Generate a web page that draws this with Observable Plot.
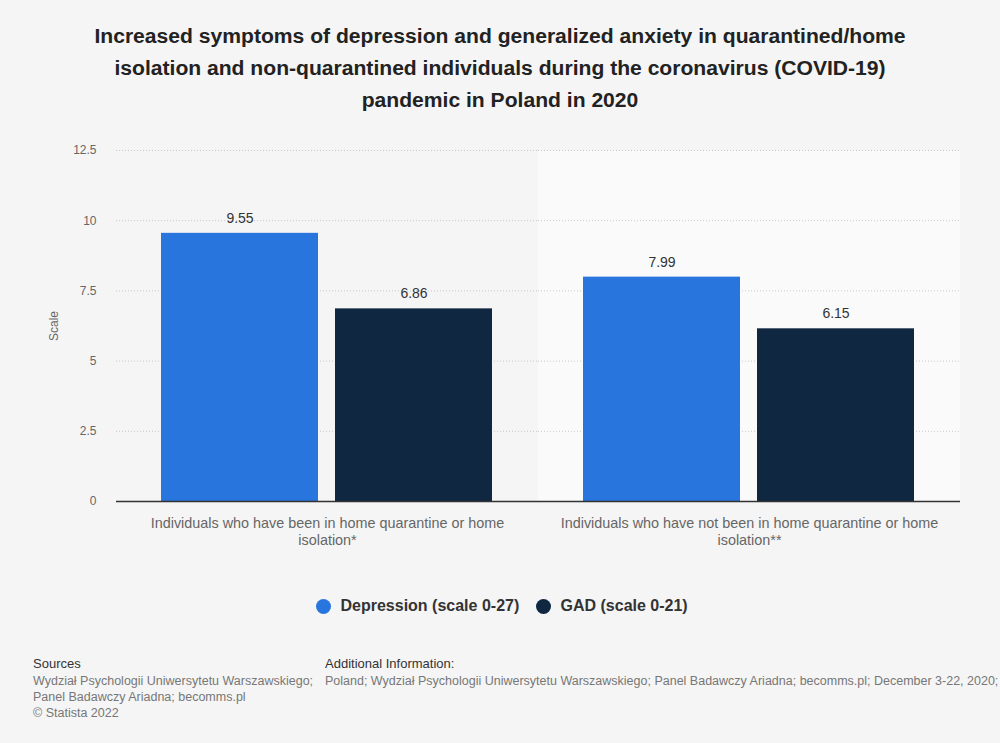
<!DOCTYPE html>
<html>
<head>
<meta charset="utf-8">
<script src="https://cdn.jsdelivr.net/npm/d3@7"></script>
<script src="https://cdn.jsdelivr.net/npm/@observablehq/plot@0.6"></script>
<style>
  html, body { margin: 0; padding: 0; background: #f5f5f5; width: 1000px; height: 743px; overflow: hidden; font-family: "Liberation Sans", Arial, sans-serif; }
  #title { position: absolute; top: 20px; left: 0; width: 1000px; text-align: center; font-weight: bold; font-size: 21.1px; line-height: 32px; color: #222; }
  #chart { position: absolute; top: 130px; left: 0; }
  #legend { position: absolute; top: 594px; left: 0; width: 1000px; height: 24px; }
  .lg { position: absolute; top: 0; display: flex; align-items: center; height: 24px; font-weight: bold; font-size: 16px; color: #333; }
  .dot { width: 15px; height: 15px; border-radius: 50%; margin-right: 10px; }
  #footer { position: absolute; top: 656px; left: 0; width: 1000px; font-size: 12.5px; color: #777; line-height: 16px; }
  .fh { font-size: 13px; color: #333; margin-bottom: 1px; }
</style>
</head>
<body>
<div id="title">Increased symptoms of depression and generalized anxiety in quarantined/home<br>isolation and non-quarantined individuals during the coronavirus (COVID-19)<br>pandemic in Poland in 2020</div>
<div id="chart"></div>
<div id="legend"></div>
<div id="footer">
  <div style="position:absolute;left:33px;top:0;">
    <div class="fh">Sources</div>
    <div>Wydział Psychologii Uniwersytetu Warszawskiego;<br>Panel Badawczy Ariadna; becomms.pl<br>© Statista 2022</div>
  </div>
  <div style="position:absolute;left:325px;top:0;white-space:nowrap;">
    <div class="fh">Additional Information:</div>
    <div>Poland; Wydział Psychologii Uniwersytetu Warszawskiego; Panel Badawczy Ariadna; becomms.pl; December 3-22, 2020;</div>
  </div>
</div>
<script>
const categories = [
  "Individuals who have been in home quarantine or home isolation*",
  "Individuals who have not been in home quarantine or home isolation**"
];
const series = ["Depression (scale 0-27)", "GAD (scale 0-21)"];
const depressionValues = [9.55, 7.99];
const gadValues = [6.86, 6.15];
const yTicks = [0, 2.5, 5, 7.5, 10, 12.5];
const colors = ["#2876dd", "#0f2741"];
const highlighted = categories[1];

const data = [];
categories.forEach((c, i) => {
  data.push({category: c, series: series[0], value: depressionValues[i]});
  data.push({category: c, series: series[1], value: gadValues[i]});
});

function wrap(s, max) {
  const words = s.split(" ");
  const lines = [];
  let cur = "";
  for (const w of words) {
    const next = cur ? cur + " " + w : w;
    if (next.length > max && cur) { lines.push(cur); cur = w; }
    else cur = next;
  }
  if (cur) lines.push(cur);
  return lines.join("\n");
}

const chart = Plot.plot({
  width: 1000,
  height: 430,
  marginLeft: 115,
  marginRight: 40,
  marginTop: 20,
  marginBottom: 59,
  style: {background: "transparent", fontFamily: "'Liberation Sans', Arial, sans-serif"},
  fx: {domain: categories, padding: 0},
  x: {domain: series, paddingInner: 0.097, paddingOuter: 0.2555, axis: null},
  y: {domain: [0, 12.5]},
  color: {domain: series, range: colors},
  marks: [
    Plot.barY([{category: highlighted}], {fx: "category", y1: 0, y2: 12.5, fill: "#fafafa"}),
    Plot.gridY(yTicks, {stroke: "#c8c8c8", strokeOpacity: 1, strokeDasharray: "1,2"}),
    Plot.axisY({ticks: yTicks, tickSize: 0, tickPadding: 20, tickFormat: d => String(d), fontSize: 12, color: "#666", label: "Scale", labelAnchor: "center", labelArrow: "none", labelOffset: 67}),
    Plot.axisFx({anchor: "bottom", tickSize: 0, tickPadding: 14, fontSize: 14.4, color: "#666", lineHeight: 1.2, tickFormat: d => wrap(d, 56), label: null}),
    Plot.barY(data, {fx: "category", x: "series", y: "value", fill: "series"}),
    Plot.ruleY([0], {stroke: "#333", strokeWidth: 1.5}),
    Plot.text(data, {fx: "category", x: "series", y: "value", text: d => String(d.value), dy: -15, fontSize: 14, fill: "#333"})
  ]
});
document.getElementById("chart").appendChild(chart);

const legend = document.getElementById("legend");
const positions = [315.5, 535.5];
series.forEach((s, i) => {
  const el = document.createElement("div");
  el.className = "lg";
  el.style.left = positions[i] + "px";
  el.innerHTML = `<span class="dot" style="background:${colors[i]}"></span><span>${s}</span>`;
  legend.appendChild(el);
});
</script>
</body>
</html>
